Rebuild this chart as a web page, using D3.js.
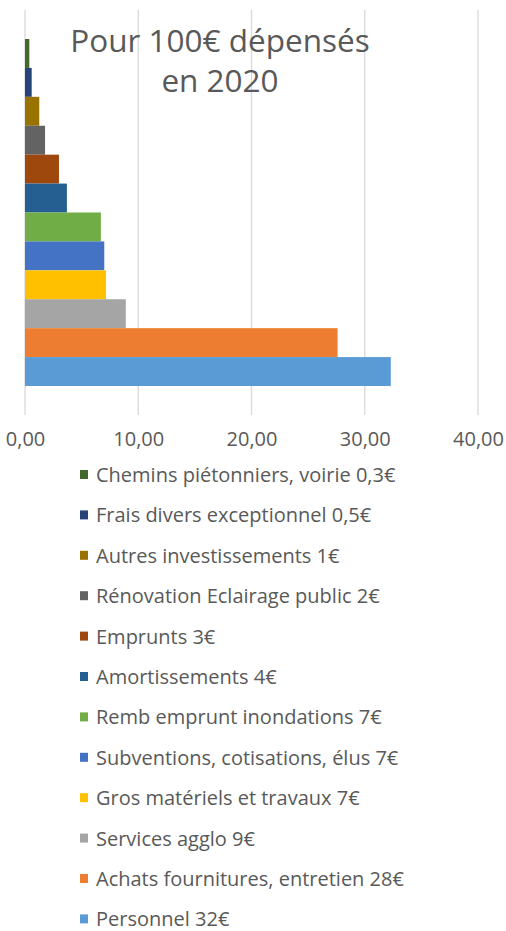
<!DOCTYPE html>
<html>
<head>
<meta charset="utf-8">
<script src="https://cdn.jsdelivr.net/npm/d3@7"></script>
<style>
  body { margin: 0; background: #fff; }
  text { font-family: "Open Sans", sans-serif; fill: #595959; }
</style>
</head>
<body>
<div class="chart"></div>
<script>
const categories = [
  'Chemins piétonniers, voirie 0,3€',
  'Frais divers exceptionnel 0,5€',
  'Autres investissements 1€',
  'Rénovation Eclairage public 2€',
  'Emprunts 3€',
  'Amortissements 4€',
  'Remb emprunt inondations 7€',
  'Subventions, cotisations, élus 7€',
  'Gros matériels et travaux 7€',
  'Services agglo 9€',
  'Achats fournitures, entretien 28€',
  'Personnel 32€'
];
const values = [0.38, 0.59, 1.26, 1.77, 3.0, 3.7, 6.7, 7.0, 7.15, 8.9, 27.6, 32.3];
const colors = ['#43682B', '#264478', '#997300', '#636363', '#9E480E', '#255E91',
  '#70AD47', '#4472C4', '#FFC000', '#A5A5A5', '#ED7D31', '#5B9BD5'];
const xTicks = [0, 10, 20, 30, 40];
const titleLines = ['Pour 100€ dépensés', 'en 2020'];

const width = 506;
const height = 931;

const svg = d3.select('.chart')
  .append('svg')
  .attr('width', width)
  .attr('height', height);

const x = d3.scaleLinear().domain([0, 40]).range([25, 478]);
const y = d3.scaleBand().domain(categories).range([39, 386]).padding(0);

// gridlines run one band above and below the bars
const gridTop = 10;
const gridBottom = 415;

svg.append('g')
  .selectAll('line')
  .data(xTicks)
  .enter()
  .append('line')
  .attr('x1', d => x(d))
  .attr('x2', d => x(d))
  .attr('y1', gridTop)
  .attr('y2', gridBottom)
  .attr('stroke', '#d9d9d9')
  .attr('stroke-width', 1.3);

svg.append('g')
  .selectAll('rect')
  .data(values)
  .enter()
  .append('rect')
  .attr('x', x(0))
  .attr('y', (d, i) => y(categories[i]))
  .attr('width', d => x(d) - x(0))
  .attr('height', y.bandwidth())
  .attr('fill', (d, i) => colors[i]);

const xAxis = d3.axisBottom(x)
  .tickValues(xTicks)
  .tickSize(0)
  .tickPadding(0)
  .tickFormat(d => d.toFixed(2).replace('.', ','));

const xAxisGroup = svg.append('g')
  .attr('transform', 'translate(0, 446)')
  .call(xAxis);
xAxisGroup.select('.domain').remove();
xAxisGroup.selectAll('text')
  .attr('dy', 0)
  .attr('y', 0)
  .style('font-size', '20px')
  .attr('fill', '#595959');

// title
svg.append('g')
  .selectAll('text')
  .data(titleLines)
  .enter()
  .append('text')
  .attr('x', 220)
  .attr('y', (d, i) => 52 + i * 40)
  .attr('text-anchor', 'middle')
  .style('font-size', '31.5px')
  .text(d => d);

// legend
const legend = svg.append('g')
  .selectAll('g')
  .data(categories)
  .enter()
  .append('g')
  .attr('transform', (d, i) => `translate(0, ${482 + i * 40.4})`);

legend.append('rect')
  .attr('x', 80)
  .attr('y', -12)
  .attr('width', 8)
  .attr('height', 9)
  .attr('fill', (d, i) => colors[i]);

legend.append('text')
  .attr('x', 96)
  .attr('y', 0)
  .style('font-size', '20px')
  .text(d => d);
</script>
</body>
</html>
